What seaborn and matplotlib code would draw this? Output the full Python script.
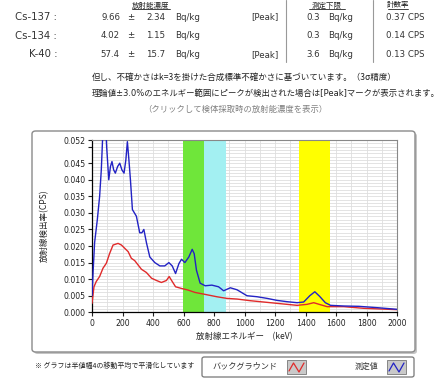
import numpy as np
import matplotlib
matplotlib.use('Agg')
import matplotlib.pyplot as plt
import pandas as pd
import seaborn as sns
from matplotlib.patches import FancyBboxPatch, Rectangle
from matplotlib.lines import Line2D

# 放射能濃度の表
nuclides = ['Cs-137 :', 'Cs-134 :', 'K-40 :']
conc = ['9.66', '4.02', '57.4']
uncert = ['2.34', '1.15', '15.7']
peak = ['[Peak]', '', '[Peak]']
lod = ['0.3', '0.3', '3.6']
rate = ['0.37 CPS', '0.14 CPS', '0.13 CPS']

# 測定値スペクトル (keV, CPS)
meas_energy = [0, 8, 17, 35, 50, 61, 70, 80, 90, 96, 110, 121, 131, 142, 153, 168, 182, 196,
               210, 222, 232, 242, 252, 265, 291, 313, 327, 340, 357, 379, 412, 445, 477, 504,
               526, 548, 570, 587, 609, 635, 657, 670, 685, 709, 742, 786, 830, 863, 907, 951,
               1016, 1082, 1148, 1213, 1279, 1345, 1388, 1428, 1461, 1493, 1530, 1564, 1651,
               1750, 1870, 2000]
meas_cps = [0.005, 0.013, 0.021, 0.028, 0.035, 0.043, 0.053, 0.060, 0.056, 0.050, 0.040,
            0.044, 0.0455, 0.043, 0.042, 0.044, 0.045, 0.043, 0.042, 0.046, 0.0515, 0.046,
            0.040, 0.031, 0.029, 0.024, 0.024, 0.025, 0.021, 0.0167, 0.015, 0.014, 0.014,
            0.015, 0.014, 0.0117, 0.0147, 0.016, 0.015, 0.0167, 0.019, 0.0177, 0.0127, 0.0088,
            0.0080, 0.0082, 0.0077, 0.0065, 0.0074, 0.0068, 0.0050, 0.0047, 0.0042, 0.0036,
            0.0032, 0.0029, 0.0031, 0.0050, 0.0062, 0.0048, 0.0029, 0.0021, 0.0019, 0.0018,
            0.0014, 0.0009]

# バックグラウンド
bg_energy = [0, 13, 28, 50, 72, 94, 116, 138, 171, 193, 215, 237, 258, 280, 302, 324, 357,
             390, 423, 455, 488, 506, 526, 548, 587, 631, 675, 731, 818, 884, 951, 1038, 1148,
             1257, 1345, 1410, 1454, 1497, 1542, 1651, 1782, 2000]
bg_cps = [0.0027, 0.0077, 0.0093, 0.0108, 0.0133, 0.0148, 0.0178, 0.0203, 0.0208, 0.0203,
          0.0193, 0.0183, 0.0163, 0.0156, 0.0143, 0.0130, 0.0120, 0.0103, 0.0096, 0.0090,
          0.0096, 0.0108, 0.0093, 0.0077, 0.0072, 0.0067, 0.0060, 0.0055, 0.0047, 0.0042,
          0.0040, 0.0035, 0.0030, 0.0025, 0.0021, 0.0024, 0.0029, 0.0023, 0.0017, 0.0017,
          0.0012, 0.0008]

# 検出エネルギー範囲 (keV)
bands = [(596, 734, '#6fe63a'), (734, 880, '#a3f0f2'), (1360, 1560, '#ffff00')]

df = pd.concat([
    pd.DataFrame({'energy': bg_energy, 'cps': bg_cps, 'series': 'bg'}),
    pd.DataFrame({'energy': meas_energy, 'cps': meas_cps, 'series': 'meas'}),
])

sns.set_style('white')
JP = ['Noto Sans CJK JP', 'DejaVu Sans']
plt.rcParams['font.family'] = JP

W, H = 447, 379
fig = plt.figure(figsize=(W / 100, H / 100), dpi=100)


def fx(x):
    return x / W


def fy(y):
    return 1 - y / H


# 表
lat = ['DejaVu Sans', 'Noto Sans CJK JP']
for txt, xc in [('放射能濃度', 151), ('測定下限', 327), ('計数率', 398)]:
    fig.text(fx(xc), fy(1.5), txt, ha='center', va='top', fontsize=5.4, color='#222222')
for x0, x1 in [(132, 170), (309, 345), (388, 408)]:
    fig.add_artist(Line2D([fx(x0), fx(x1)], [fy(9), fy(9)], color='#222222', lw=0.6))
for xl in [286, 373]:
    fig.add_artist(Line2D([fx(xl), fx(xl)], [fy(0), fy(62)], color='#999999', lw=0.8))
for i in range(3):
    y = fy(17 + i * 18.7)
    fig.text(fx(57), y, nuclides[i], ha='right', va='center', fontsize=7.3, family=lat, color='#333333')
    fig.text(fx(120), y, conc[i], ha='right', va='center', fontsize=6.2, family=lat, color='#333333')
    fig.text(fx(131), y, '±', ha='center', va='center', fontsize=6.2, family=lat, color='#333333')
    fig.text(fx(165), y, uncert[i], ha='right', va='center', fontsize=6.2, family=lat, color='#333333')
    fig.text(fx(175), y, 'Bq/kg', ha='left', va='center', fontsize=6.2, family=lat, color='#333333')
    fig.text(fx(278), y, peak[i], ha='right', va='center', fontsize=6.2, family=lat, color='#333333')
    fig.text(fx(320), y, lod[i], ha='right', va='center', fontsize=6.2, family=lat, color='#333333')
    fig.text(fx(328), y, 'Bq/kg', ha='left', va='center', fontsize=6.2, family=lat, color='#333333')
    fig.text(fx(386), y, rate[i], ha='left', va='center', fontsize=6.2, family=lat, color='#333333')

fig.text(fx(92), fy(77), '但し、不確かさはk=3を掛けた合成標準不確かさに基づいています。（3σ精度）',
         ha='left', va='center', fontsize=6.15, color='#222222')
fig.text(fx(92), fy(93), '理論値±3.0%のエネルギー範囲にピークが検出された場合は[Peak]マークが表示されます。',
         ha='left', va='center', fontsize=6.0, family=lat, color='#222222')
fig.text(fx(235), fy(109), '（クリックして検体採取時の放射能濃度を表示）',
         ha='center', va='center', fontsize=6.0, color='#808080')

# グラフ枠
fig.add_artist(FancyBboxPatch((fx(34), fy(354)), fx(415 - 32), (352 - 131) / H,
                              boxstyle='round,pad=0,rounding_size=0.008',
                              transform=fig.transFigure, fc='#c4c4c4', ec='none', zorder=0))
fig.add_artist(FancyBboxPatch((fx(32), fy(352)), fx(415 - 32), (352 - 131) / H,
                              boxstyle='round,pad=0,rounding_size=0.008',
                              transform=fig.transFigure, fc='white', ec='#8a8a8a', lw=1.0, zorder=0))

ax = fig.add_axes([fx(92), fy(312.3), fx(397 - 92), (312.3 - 140) / H])
ax.set_zorder(2)
for lo, hi, c in bands:
    ax.axvspan(lo, hi, color=c, zorder=1, lw=0)

sns.lineplot(data=df, x='energy', y='cps', hue='series', palette={'bg': '#e02a2a', 'meas': '#2222c4'},
             estimator=None, sort=False, lw=1.0, legend=False, ax=ax, zorder=3)

ax.set_xlim(0, 2000)
ax.set_ylim(0, 0.052)
ax.set_xticks(range(0, 2001, 200))
ax.set_xticks(range(0, 2001, 100), minor=True)
yt = [0, 0.005, 0.010, 0.015, 0.020, 0.025, 0.030, 0.035, 0.040, 0.045, 0.050, 0.052]
ax.set_yticks(yt)
ax.set_yticklabels(['%.3f' % v if v != 0.050 else '' for v in yt])
ax.set_yticks(np.arange(0, 0.0521, 0.001), minor=True)
ax.grid(True, which='both', color='#dedede', lw=0.6, zorder=0)
ax.set_axisbelow(True)
ax.tick_params(which='major', direction='out', length=3, width=0.8, labelsize=5.6, pad=1.5,
               colors='#222222', bottom=True, left=True)
ax.tick_params(which='minor', length=0)
for lab in ax.get_xticklabels() + ax.get_yticklabels():
    lab.set_family(lat)
for s in ['left', 'bottom']:
    ax.spines[s].set_color('black')
    ax.spines[s].set_linewidth(0.9)
for s in ['top', 'right']:
    ax.spines[s].set_color('#888888')
    ax.spines[s].set_linewidth(0.8)
ax.set_xlabel('放射線エネルギー　(keV)', fontsize=6.1, labelpad=3, color='#222222')
ax.set_ylabel('放射線検出率(CPS)', fontsize=6.1, labelpad=4, color='#222222')
ax.yaxis.set_label_coords(-0.14, 0.5)

# 凡例
fig.text(fx(35), fy(366), '※ グラフは半値幅4の移動平均で平滑化しています', ha='left', va='center',
         fontsize=5.0, color='#222222')
fig.add_artist(FancyBboxPatch((fx(202), fy(377)), fx(414 - 202), 20 / H,
                              boxstyle='round,pad=0,rounding_size=0.005',
                              transform=fig.transFigure, fc='white', ec='#777777', lw=0.9))
fig.text(fx(212), fy(366), 'バックグラウンド', ha='left', va='center', fontsize=5.9, color='#333333')
fig.text(fx(378), fy(366), '測定値', ha='right', va='center', fontsize=5.7, color='#333333')
for x0, c in [(287, '#e02a2a'), (387, '#2222c4')]:
    fig.add_artist(Rectangle((fx(x0), fy(374)), fx(19), 14 / H, transform=fig.transFigure,
                             fc='#c9c9c9', ec='#777777', lw=0.6))
    fig.add_artist(Line2D([fx(x0 + 2), fx(x0 + 6.5), fx(x0 + 12), fx(x0 + 17)],
                          [fy(371), fy(363), fy(372), fy(363)], color=c, lw=0.9))

fig.savefig('out.png', dpi=100)
